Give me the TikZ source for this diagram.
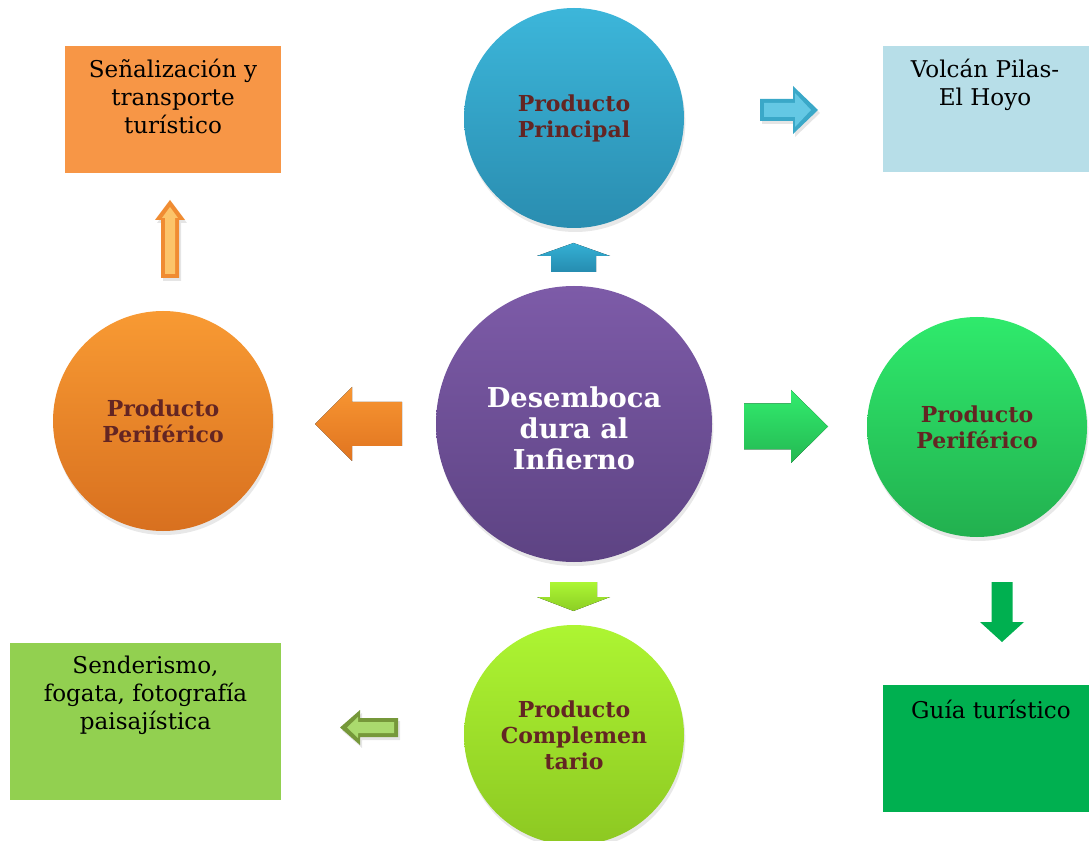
\documentclass[tikz,border=0pt]{standalone}
\usepackage{fontspec}
\setmainfont{DejaVu Serif}
\usetikzlibrary{shadows}
\definecolor{maroon}{HTML}{632523}
\definecolor{boxorange}{HTML}{F79646}
\definecolor{boxblue}{HTML}{B7DEE8}
\definecolor{boxlime}{HTML}{92D050}
\definecolor{boxgreen}{HTML}{00B050}
\tikzset{
  circ/.style={circle, inner sep=0pt, minimum size=165pt, align=center,
    font=\fontsize{16.5}{19.5}\selectfont\bfseries, text=maroon,
    drop shadow={opacity=0.18, shadow xshift=1pt, shadow yshift=-3pt}},
  boxr/.style={rectangle, inner sep=0pt, draw=none},
  boxt/.style={inner sep=0pt, align=center, anchor=north,
    font=\fontsize{17.3}{21}\selectfont, text=black},
}
% center x, center y, angle, length, head width, shaft width, head length, fill options
\newcommand\blockarr[8]{%
  \begin{scope}[shift={(#1,#2)},rotate=#3]
    \fill[#8] ({-#4/2},{-#6/2}) -- ({#4/2-#7},{-#6/2}) -- ({#4/2-#7},{-#5/2})
      -- ({#4/2},0) -- ({#4/2-#7},{#5/2}) -- ({#4/2-#7},{#6/2}) -- ({-#4/2},{#6/2}) -- cycle;
  \end{scope}}
\newcommand\bevelarr[9]{%
  \begin{scope}[shift={({#1+2},{#2+3})},rotate=#3]
    \fill[black,opacity=0.10] ({-#4/2},{-#6/2}) -- ({#4/2-#7},{-#6/2}) -- ({#4/2-#7},{-#5/2})
      -- ({#4/2},0) -- ({#4/2-#7},{#5/2}) -- ({#4/2-#7},{#6/2}) -- ({-#4/2},{#6/2}) -- cycle;
  \end{scope}
  \begin{scope}[shift={(#1,#2)},rotate=#3]
    \fill[#8] ({-#4/2},{-#6/2}) -- ({#4/2-#7},{-#6/2}) -- ({#4/2-#7},{-#5/2})
      -- ({#4/2},0) -- ({#4/2-#7},{#5/2}) -- ({#4/2-#7},{#6/2}) -- ({-#4/2},{#6/2}) -- cycle;
    \fill[#9] ({-#4/2+4},{-#6/2+4}) -- ({#4/2-#7+2},{-#6/2+4}) -- ({#4/2-#7+2},{-#5/2+7})
      -- ({#4/2-7},0) -- ({#4/2-#7+2},{#5/2-7}) -- ({#4/2-#7+2},{#6/2-4}) -- ({-#4/2+4},{#6/2-4}) -- cycle;
  \end{scope}}
\begin{document}
\begin{tikzpicture}[x=0.75pt,y=-0.75pt]
\useasboundingbox (0,0) rectangle (1089,841);
\fill[white] (0,0) rectangle (1089,841);
\begin{scope}
\clip (0,0) rectangle (1089,841);
% boxes
\node[boxr, fill=boxorange, minimum width=162pt, minimum height=95.25pt] (b1) at (173,109.5) {};
\node[boxr, fill=boxblue, minimum width=154.5pt, minimum height=94.5pt] (b2) at (986,109) {};
\node[boxr, fill=boxlime, minimum width=203.25pt, minimum height=117.75pt] (b3) at (145.5,721.5) {};
\node[boxr, fill=boxgreen, minimum width=154.5pt, minimum height=95.25pt] (b4) at (986,748.5) {};
\node[boxt] (t1) at (173,59) {Señalización y\\transporte\\turístico};
\node[boxt] (t2) at (985,59) {Volcán Pilas-\\El Hoyo};
\node[boxt] (t3) at (145.5,656) {Senderismo,\\fogata, fotografía\\paisajística};
\node[boxt] (t4) at (991,700) {Guía turístico};
% circles
\node[circ, top color={rgb,255:red,60;green,182;blue,218}, bottom color={rgb,255:red,42;green,141;blue,176}] (top) at (574,118) {Producto\\Principal};
\node[circ, minimum size=207pt, top color={rgb,255:red,125;green,91;blue,168}, bottom color={rgb,255:red,93;green,67;blue,131},
  text=white, font=\fontsize{20.5}{23}\selectfont\bfseries] (mid) at (574,424) {\rule{0pt}{22pt}Desemboca\\dura al\\Infierno};
\node[circ, top color={rgb,255:red,248;green,154;blue,51}, bottom color={rgb,255:red,216;green,112;blue,31}] (left) at (163,421) {Producto\\Periférico};
\node[circ, top color={rgb,255:red,47;green,234;blue,108}, bottom color={rgb,255:red,34;green,176;blue,79}] (right) at (977,427) {Producto\\Periférico};
\node[circ, top color={rgb,255:red,173;green,245;blue,50}, bottom color={rgb,255:red,141;green,200;blue,34}] (bot) at (574,735) {Producto\\Complemen\\tario};
% flat block arrows
\blockarr{573.5}{257.5}{90}{29}{73}{45}{13}{top color={rgb,255:red,52;green,176;blue,212}, bottom color={rgb,255:red,38;green,140;blue,176}}
\blockarr{358.5}{424}{180}{87}{74}{44}{37}{top color={rgb,255:red,248;green,150;blue,50}, bottom color={rgb,255:red,224;green,116;blue,32}}
\blockarr{786}{426.5}{0}{84}{73}{46}{37}{top color={rgb,255:red,50;green,236;blue,110}, bottom color={rgb,255:red,36;green,184;blue,82}}
\blockarr{573.5}{596.5}{-90}{29}{73}{47}{14}{top color={rgb,255:red,172;green,246;blue,52}, bottom color={rgb,255:red,140;green,206;blue,36}}
\blockarr{1002}{612}{-90}{60}{44}{21}{20}{fill=boxgreen}
% bevelled arrows
\bevelarr{789}{110}{0}{58}{48}{22}{25}{fill={rgb,255:red,58;green,168;blue,200}}{fill={rgb,255:red,100;green,200;blue,228}}
\bevelarr{170}{239}{90}{78}{30}{18}{20}{fill={rgb,255:red,240;green,140;blue,50}}{fill={rgb,255:red,252;green,196;blue,105}}
\bevelarr{369}{727.5}{180}{58}{35}{19}{20}{fill={rgb,255:red,118;green,152;blue,58}}{fill={rgb,255:red,170;green,218;blue,110}}
\end{scope}
\end{tikzpicture}
\end{document}
